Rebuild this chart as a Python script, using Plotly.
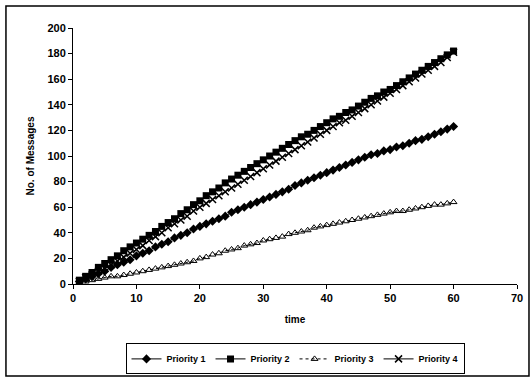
import plotly.graph_objects as go

time = list(range(1, 61))

priority_1 = [2, 4, 6, 8, 10, 13, 15, 17, 19, 22, 24, 26, 29, 31, 33, 36, 38, 40, 43, 45,
              47, 49, 51, 53, 56, 58, 60, 62, 64, 66, 68, 70, 72, 74, 77, 79, 81, 83, 85, 87,
              89, 91, 93, 95, 97, 99, 101, 102, 104, 105, 107, 108, 110, 112, 113, 115, 117, 119, 121, 123]
priority_2 = [3, 6, 9, 13, 16, 19, 22, 26, 29, 32, 35, 38, 41, 45, 48, 51, 55, 58, 62, 65,
              69, 72, 75, 79, 82, 85, 88, 91, 94, 97, 100, 103, 106, 109, 112, 115, 117, 120, 123, 126,
              129, 131, 134, 136, 139, 142, 145, 147, 150, 152, 155, 158, 161, 164, 167, 170, 173, 176, 179, 182]
priority_3 = [1, 2, 3, 4, 5, 6, 6, 7, 8, 9, 10, 11, 12, 13, 14, 15, 16, 17, 18, 20,
              21, 23, 24, 26, 27, 28, 30, 31, 32, 34, 35, 36, 37, 39, 40, 41, 42, 44, 45, 46,
              47, 48, 49, 50, 51, 52, 53, 54, 55, 56, 57, 57, 58, 59, 60, 61, 62, 62, 63, 64]
priority_4 = [2, 5, 7, 10, 12, 15, 18, 21, 24, 27, 30, 34, 37, 40, 44, 47, 50, 53, 57, 60,
              63, 66, 69, 72, 75, 78, 81, 84, 87, 90, 93, 96, 99, 102, 105, 108, 111, 114, 117, 120,
              123, 126, 128, 131, 134, 137, 140, 143, 146, 149, 152, 155, 158, 161, 164, 167, 170, 173, 177, 181]

series_names = ["Priority 1", "Priority 2", "Priority 3", "Priority 4"]

fig = go.Figure()
fig.add_trace(go.Scatter(x=time, y=priority_1, name=series_names[0], mode="lines+markers",
                         line=dict(color="black", width=1),
                         marker=dict(symbol="diamond", size=7, color="black")))
fig.add_trace(go.Scatter(x=time, y=priority_2, name=series_names[1], mode="lines+markers",
                         line=dict(color="black", width=1),
                         marker=dict(symbol="square", size=7, color="black")))
fig.add_trace(go.Scatter(x=time, y=priority_3, name=series_names[2], mode="lines+markers",
                         line=dict(color="black", width=1, dash="dot"),
                         marker=dict(symbol="triangle-up-open", size=6, color="black",
                                     line=dict(width=1, color="black"))))
fig.add_trace(go.Scatter(x=time, y=priority_4, name=series_names[3], mode="lines+markers",
                         line=dict(color="black", width=1),
                         marker=dict(symbol="x-thin-open", size=7, color="black",
                                     line=dict(width=1.5, color="black"))))

FAM = "Liberation Sans, Arial, sans-serif"
bold = dict(family=FAM, size=11, color="black", weight="bold")

fig.update_layout(
    width=531, height=377,
    margin=dict(l=73, r=14, t=28, b=93, autoexpand=False),
    paper_bgcolor="white", plot_bgcolor="white",
    showlegend=True,
    legend=dict(orientation="h", x=0.5, xanchor="center", y=-0.232, yanchor="top",
                bordercolor="black", borderwidth=1, bgcolor="white",
                font=dict(family=FAM, size=9, color="black", weight="bold"),
                itemwidth=30, tracegroupgap=0),
    xaxis=dict(range=[0, 70], dtick=10, tick0=0, showgrid=False, zeroline=False,
               showline=True, linecolor="black", linewidth=1,
               ticks="outside", ticklen=4, tickcolor="black",
               tickfont=bold,
               title=dict(text="time", font=dict(family=FAM, size=10, color="black", weight="bold"),
                          standoff=12)),
    yaxis=dict(range=[0, 200], dtick=20, tick0=0, showgrid=False, zeroline=False,
               showline=True, linecolor="black", linewidth=1,
               ticks="outside", ticklen=4, tickcolor="black",
               tickfont=bold,
               title=dict(text="No. of Messages", font=dict(family=FAM, size=10, color="black", weight="bold"),
                          standoff=10)),
    shapes=[dict(type="rect", xref="paper", yref="paper",
                 x0=-0.151, x1=1.027, y0=-0.359, y1=1.086,
                 line=dict(color="black", width=1.5))],
)

fig.write_html("out.html", config={"displayModeBar": False},
               post_script="document.body.style.margin='0';document.body.style.overflow='hidden';")
